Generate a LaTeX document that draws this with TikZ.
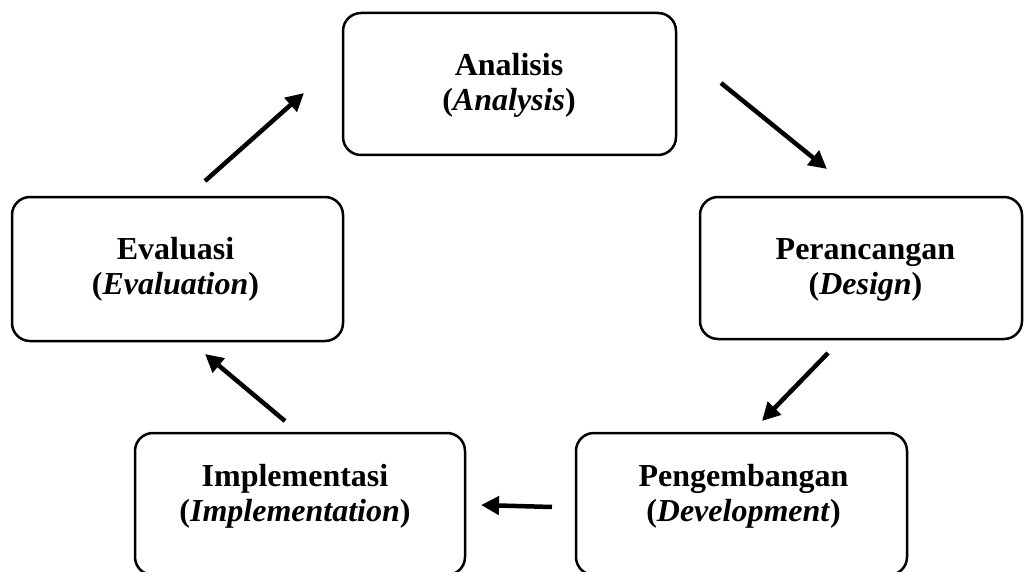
\documentclass[tikz,border=0pt]{standalone}
\usepackage{fontspec}
\setmainfont{Liberation Serif}
\usetikzlibrary{arrows.meta}
\begin{document}
\begin{tikzpicture}[x=1pt,y=-1pt,
  box/.style={draw, line width=2.5pt, rounded corners=18pt, minimum width=#1, minimum height=142pt, inner sep=0pt},
  lbl/.style={align=center, font=\fontsize{32}{35}\selectfont\bfseries, inner sep=0pt},
  arr/.style={line width=4.5pt, -{Triangle[length=18pt,width=18pt]}}]
\useasboundingbox (0,0) rectangle (1024,572);
\clip (0,0) rectangle (1024,572);
% boxes
\node[box=333pt] (ana) at (509.5,84) {};
\node[box=331pt, minimum height=144pt] (eva) at (177.5,269) {};
\node[box=322pt] (per) at (861,268) {};
\node[box=330pt] (imp) at (300,504) {};
\node[box=331pt] (pen) at (741.5,504) {};
% labels
\node[lbl] (anat) at (509,85) {Analisis\\(\textit{Analysis})};
\node[lbl] (evat) at (175.5,269) {Evaluasi\\(\textit{Evaluation})};
\node[lbl] (pert) at (865.5,270) {Perancangan\\(\textit{Design})};
\node[lbl] (impt) at (295,496) {Implementasi\\(\textit{Implementation})};
\node[lbl] (pent) at (743.5,496) {Pengembangan\\(\textit{Development})};
% arrow end points
\coordinate (a1s) at (205,181); \coordinate (a1e) at (304,93);
\coordinate (a2s) at (721,83);  \coordinate (a2e) at (827,169);
\coordinate (a3s) at (828,353); \coordinate (a3e) at (762,421);
\coordinate (a4s) at (552,507); \coordinate (a4e) at (481,505);
\coordinate (a5s) at (285,421); \coordinate (a5e) at (205,354);
\draw[arr] (a1s) -- (a1e);
\draw[arr] (a2s) -- (a2e);
\draw[arr] (a3s) -- (a3e);
\draw[arr] (a4s) -- (a4e);
\draw[arr] (a5s) -- (a5e);
\end{tikzpicture}
\end{document}
